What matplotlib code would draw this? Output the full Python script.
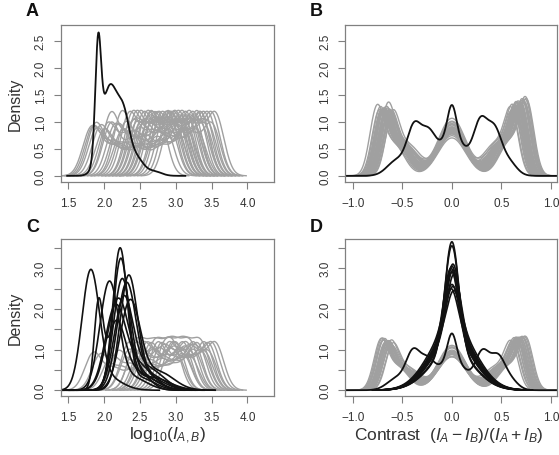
import numpy as np
import matplotlib
matplotlib.use('Agg')
import matplotlib.pyplot as plt
from matplotlib.ticker import FuncFormatter

plt.rcParams['font.family'] = ['Liberation Sans', 'DejaVu Sans']
plt.rcParams['mathtext.fontset'] = 'custom'
plt.rcParams['mathtext.rm'] = 'Liberation Sans'
plt.rcParams['mathtext.it'] = 'Liberation Sans:italic'

# ---- panel A / C: log10 intensity, gray curves as (first centre, last centre, middle dip)
A_gray_lo = [1.85, 1.88, 1.90, 1.95, 1.82, 2.00, 2.10, 2.20, 2.35, 2.40, 2.45, 2.50, 2.55, 2.55, 2.60, 2.65,
             2.65, 2.70, 2.75, 2.75, 2.80, 2.85, 2.90, 2.45, 2.30, 2.25, 2.50, 2.60, 2.40, 2.95, 2.25, 2.65,
             2.05, 2.15, 2.10]
A_gray_hi = [3.00, 2.95, 3.10, 3.05, 2.85, 3.15, 3.05, 3.15, 2.95, 3.00, 3.05, 3.10, 3.15, 3.25, 3.20, 3.25,
             3.30, 3.35, 3.35, 3.45, 3.40, 3.45, 3.50, 3.25, 3.20, 3.30, 3.35, 3.40, 3.10, 3.55, 2.90, 3.50,
             2.90, 3.00, 2.75]
A_gray_dip = [0.45, 0.50, 0.40, 0.45, 0.40, 0.35, 0.30, 0.25, 0.10, 0.15, 0.15, 0.15, 0.10, 0.20, 0.15, 0.10,
              0.20, 0.15, 0.10, 0.15, 0.10, 0.10, 0.10, 0.25, 0.30, 0.30, 0.25, 0.20, 0.20, 0.10, 0.20, 0.25,
              0.25, 0.20, 0.15]
# black curve: (centre, sd, weight)
A_black = [(1.915, 0.04, 0.20), (2.08, 0.12, 0.50), (2.28, 0.08, 0.16), (2.45, 0.10, 0.08), (2.70, 0.10, 0.02)]

C_gray_lo = [1.85, 1.95, 2.10, 2.35, 2.45, 2.55, 2.60, 2.65, 2.75, 2.80, 2.90, 2.95, 2.50, 2.35, 2.20, 2.65,
             2.70, 2.45, 2.85, 2.55]
C_gray_hi = [3.00, 3.10, 3.20, 3.00, 3.10, 3.15, 3.25, 3.30, 3.40, 3.45, 3.50, 3.55, 3.35, 3.25, 3.10, 3.45,
             3.20, 2.95, 3.35, 3.40]
C_gray_dip = [0.45, 0.40, 0.30, 0.15, 0.15, 0.10, 0.15, 0.10, 0.15, 0.10, 0.10, 0.10, 0.25, 0.30, 0.25, 0.20,
              0.05, 0.10, 0.05, 0.20]
C_black = [
    [(1.81, 0.12, 0.85), (2.05, 0.20, 0.15)],
    [(1.92, 0.06, 0.30), (2.17, 0.13, 0.55), (2.50, 0.15, 0.15)],
    [(2.07, 0.13, 0.85), (2.40, 0.20, 0.15)],
    [(2.22, 0.10, 0.85), (2.50, 0.20, 0.15)],
    [(2.23, 0.105, 0.83), (2.55, 0.20, 0.17)],
    [(2.34, 0.12, 0.82), (2.65, 0.20, 0.18)],
    [(2.31, 0.13, 0.82), (2.60, 0.22, 0.18)],
    [(2.19, 0.15, 0.80), (2.50, 0.22, 0.20)],
    [(2.27, 0.13, 0.70), (2.60, 0.22, 0.30)],
    [(2.15, 0.14, 0.65), (2.45, 0.22, 0.35)],
    [(2.36, 0.14, 0.75), (2.75, 0.22, 0.25)],
    [(2.25, 0.12, 0.80), (2.65, 0.25, 0.20)],
]

# ---- panel B / D: contrast, gray curves as left peak, centre and right peak
B_left_x = [-0.76, -0.74, -0.72, -0.71, -0.70, -0.69, -0.68, -0.67, -0.66, -0.65, -0.64, -0.63, -0.62, -0.61, -0.60,
            -0.73, -0.70, -0.68, -0.66, -0.64, -0.62, -0.69, -0.67, -0.65, -0.71, -0.63, -0.68, -0.66, -0.72, -0.64]
B_left_h = [1.48, 1.30, 1.25, 1.20, 1.15, 1.30, 1.10, 1.20, 1.05, 1.25, 1.15, 1.00, 1.10, 0.95, 1.05,
            1.35, 1.20, 1.15, 1.10, 1.25, 1.00, 1.20, 1.10, 1.00, 1.30, 1.05, 1.15, 1.20, 1.28, 1.10]
B_mid_h = [0.80, 0.85, 0.90, 0.78, 0.82, 0.95, 0.88, 0.80, 0.92, 0.75, 0.85, 0.90, 0.80, 0.95, 0.78,
           0.83, 0.87, 0.90, 0.80, 0.85, 0.92, 0.78, 0.82, 0.88, 0.80, 0.90, 0.85, 0.83, 0.87, 0.80]
B_right_x = [0.76, 0.75, 0.74, 0.72, 0.70, 0.69, 0.68, 0.67, 0.66, 0.65, 0.64, 0.63, 0.62, 0.61, 0.60,
             0.73, 0.71, 0.70, 0.68, 0.66, 0.64, 0.72, 0.69, 0.67, 0.75, 0.65, 0.70, 0.68, 0.74, 0.66]
B_right_h = [1.60, 1.50, 1.45, 1.40, 1.30, 1.25, 1.35, 1.20, 1.30, 1.15, 1.25, 1.10, 1.20, 1.05, 1.10,
             1.45, 1.35, 1.30, 1.20, 1.40, 1.10, 1.35, 1.25, 1.15, 1.55, 1.20, 1.30, 1.25, 1.40, 1.15]
B_black = [(-0.55, 0.10, 0.07), (-0.38, 0.07, 0.14), (-0.24, 0.07, 0.10), (0.0, 0.045, 0.065), (0.0, 0.15, 0.26),
           (0.29, 0.07, 0.15), (0.43, 0.07, 0.13), (0.57, 0.08, 0.05)]

D_left_x = [-0.72, -0.70, -0.69, -0.68, -0.67, -0.66, -0.65, -0.64, -0.63, -0.62, -0.61, -0.60,
            -0.71, -0.68, -0.66, -0.64, -0.70, -0.67, -0.65, -0.63]
D_left_h = [1.30, 1.25, 1.20, 1.15, 1.10, 1.05, 1.20, 1.00, 0.95, 1.10, 0.90, 1.00,
            1.28, 1.15, 1.05, 1.10, 1.22, 1.00, 1.12, 0.95]
D_mid_h = [0.85, 0.90, 0.80, 0.95, 0.88, 0.82, 0.92, 0.85, 1.00, 0.80, 0.90, 0.86,
           0.84, 0.93, 0.81, 0.87, 0.89, 0.95, 0.83, 0.90]
D_right_x = [0.75, 0.73, 0.72, 0.70, 0.69, 0.68, 0.67, 0.66, 0.65, 0.64, 0.62, 0.60,
             0.74, 0.71, 0.69, 0.66, 0.72, 0.68, 0.66, 0.63]
D_right_h = [1.35, 1.30, 1.25, 1.30, 1.20, 1.15, 1.25, 1.10, 1.05, 1.15, 1.00, 1.05,
             1.32, 1.22, 1.10, 1.18, 1.28, 1.08, 1.20, 1.00]
D_peak_x = [0.0, 0.0, 0.01, 0.0, -0.01, 0.01, 0.0, 0.02, 0.0, 0.01, -0.01, 0.02]
D_peak_h = [3.65, 3.55, 3.10, 3.05, 3.00, 2.95, 2.90, 2.85, 2.60, 2.55, 2.50, 2.45]
D_black3 = [(-0.55, 0.10, 0.07), (-0.39, 0.07, 0.14), (-0.25, 0.07, 0.09), (0.0, 0.045, 0.07), (0.0, 0.15, 0.26),
            (0.31, 0.07, 0.14), (0.46, 0.07, 0.12), (0.58, 0.08, 0.05)]

GRAY = '#a0a0a0'
BLACK = '#111111'
FRAME = '#808080'
TXT = '#333333'


def density(comps, normalise=True, npts=500):
    mu = np.array([c[0] for c in comps])
    sd = np.array([c[1] for c in comps])
    w = np.array([c[2] for c in comps], dtype=float)
    if normalise:
        w = w / w.sum()
    x = np.linspace(mu.min() - 3.6 * sd.max(), mu.max() + 3.6 * sd.max(), npts)
    y = np.zeros_like(x)
    for m, s, ww in zip(mu, sd, w):
        y += ww * np.exp(-0.5 * ((x - m) / s) ** 2) / (s * np.sqrt(2 * np.pi))
    return x, y


def plateau(lo, hi, dip, sd=0.12):
    n = max(2, int(round((hi - lo) / 0.28)) + 1)
    mus = np.linspace(lo, hi, n)
    ws = np.ones(n)
    ws[1:-1] *= (1 - dip)
    return [(m, sd, w) for m, w in zip(mus, ws)]


def trimodal(lx, lh, mh, rx, rh):
    wl = lh / 3.6
    wr = rh / 3.6
    wc = mh / 2.85
    return [(lx, 0.07, 0.55 * wl), (lx + 0.17, 0.11, 0.45 * wl), (0.0, 0.14, wc),
            (rx - 0.17, 0.11, 0.45 * wr), (rx, 0.07, 0.55 * wr)]


def sharp(px, ph):
    wn = (ph - 1.81) / (5.70 - 1.81)
    return [(px, 0.07, wn), (px, 0.22, 1 - wn)]


def style(ax, xticks, yticks, xlim, ylim, every_label=True):
    ax.set_xlim(*xlim)
    ax.set_ylim(*ylim)
    ax.set_xticks(xticks)
    ax.set_yticks(yticks)
    ax.xaxis.set_major_formatter(FuncFormatter(lambda v, p: f'{v:.1f}'.replace('-', '\u2212')))
    if every_label:
        ax.yaxis.set_major_formatter(FuncFormatter(lambda v, p: f'{v:.1f}'))
    else:
        ax.yaxis.set_major_formatter(FuncFormatter(lambda v, p: f'{v:.1f}' if abs(v - round(v)) < 1e-6 else ''))
    for sp in ax.spines.values():
        sp.set_color(FRAME)
        sp.set_linewidth(0.9)
    ax.tick_params(direction='out', length=5, width=0.8, color=FRAME, labelsize=8.5,
                   labelcolor=TXT, pad=6)
    ax.tick_params(axis='y', labelrotation=90, pad=5)
    for lab in ax.get_yticklabels():
        lab.set_va('center')


fig = plt.figure(figsize=(5.59, 4.56), dpi=100)
W, H = 559.0, 456.0


def box(l, t, r, b):
    return fig.add_axes([l / W, 1 - b / H, (r - l) / W, (b - t) / H])


axA = box(60.5, 25.5, 274, 182.5)
axB = box(345.3, 25.5, 557.3, 182.5)
axC = box(60.5, 240, 274, 396.5)
axD = box(345.3, 240, 557.3, 396.5)

# A
for lo, hi, dp in zip(A_gray_lo, A_gray_hi, A_gray_dip):
    x, y = density(plateau(lo, hi, dp))
    axA.plot(x, y, color=GRAY, lw=1.0)
x, y = density(A_black, normalise=False)
axA.plot(x, y, color=BLACK, lw=1.3)

# B
for lx, lh, mh, rx, rh in zip(B_left_x, B_left_h, B_mid_h, B_right_x, B_right_h):
    x, y = density(trimodal(lx, lh, mh, rx, rh))
    axB.plot(x, y, color=GRAY, lw=1.0)
x, y = density(B_black)
axB.plot(x, y, color=BLACK, lw=1.3)

# C
for lo, hi, dp in zip(C_gray_lo, C_gray_hi, C_gray_dip):
    x, y = density(plateau(lo, hi, dp))
    axC.plot(x, y, color=GRAY, lw=1.0)
for comps in C_black:
    x, y = density(comps)
    axC.plot(x, y, color=BLACK, lw=1.2)

# D
for lx, lh, mh, rx, rh in zip(D_left_x, D_left_h, D_mid_h, D_right_x, D_right_h):
    x, y = density(trimodal(lx, lh, mh, rx, rh))
    axD.plot(x, y, color=GRAY, lw=1.0)
for px, ph in zip(D_peak_x, D_peak_h):
    x, y = density(sharp(px, ph))
    axD.plot(x, y, color=BLACK, lw=1.2)
x, y = density(D_black3)
axD.plot(x, y, color=BLACK, lw=1.3)

xt_log = [1.5, 2.0, 2.5, 3.0, 3.5, 4.0]
xt_con = [-1.0, -0.5, 0.0, 0.5, 1.0]
style(axA, xt_log, np.arange(0, 2.51, 0.5), (1.39, 4.37), (-0.105, 2.81))
style(axB, xt_con, np.arange(0, 2.51, 0.5), (-1.075, 1.063), (-0.105, 2.81))
style(axC, xt_log, np.arange(0, 3.51, 0.5), (1.39, 4.37), (-0.13, 3.72), every_label=False)
style(axD, xt_con, np.arange(0, 3.51, 0.5), (-1.075, 1.063), (-0.13, 3.72), every_label=False)

for xp, yp, s in [(32.5, 12, 'A'), (316.5, 12, 'B'), (33, 228, 'C'), (316, 228, 'D')]:
    fig.text(xp / W, 1 - yp / H, s, fontsize=13, fontweight='bold', ha='center', va='center', color='#111111')

fig.text(15 / W, 1 - 104 / H, 'Density', rotation=90, fontsize=11.5, ha='center', va='center', color=TXT)
fig.text(15 / W, 1 - 318 / H, 'Density', rotation=90, fontsize=11.5, ha='center', va='center', color=TXT)
fig.text(167 / W, 1 - 436 / H, r'$\mathrm{log}_{10}(I_{A,B})$', fontsize=12.5, ha='center', va='center', color=TXT)
fig.text(449 / W, 1 - 436 / H, r'Contrast  $(I_A - I_B)/(I_A + I_B)$', fontsize=12.5, ha='center', va='center',
         color=TXT)

fig.savefig('out.png', dpi=100)
